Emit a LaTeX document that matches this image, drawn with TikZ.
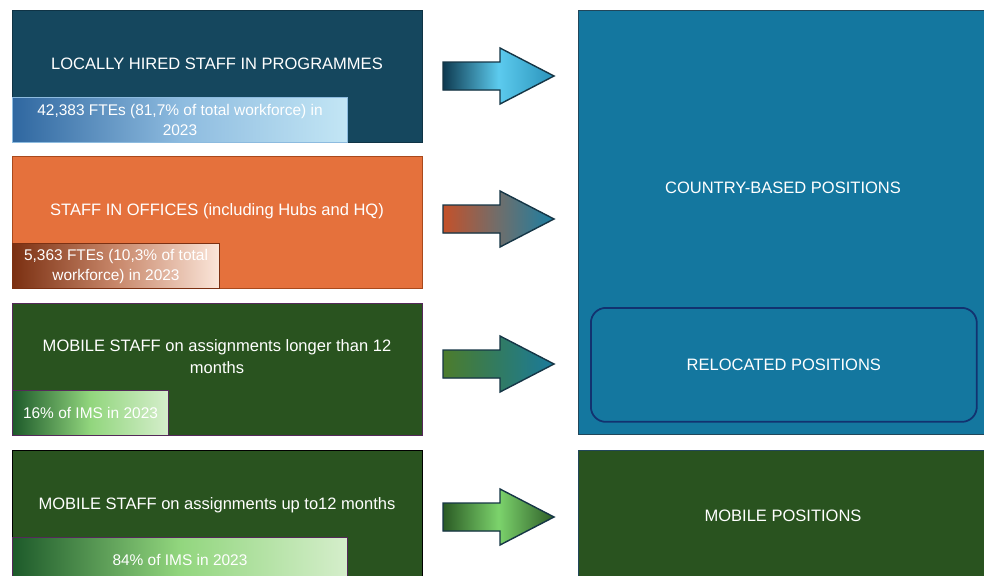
\documentclass[tikz,border=0pt]{standalone}
\usepackage{fontspec}
\setmainfont{Liberation Sans}

% panel colours
\definecolor{progteal}{HTML}{15475E}
\definecolor{progedge}{HTML}{0F3345}
\definecolor{officeorange}{HTML}{E5713C}
\definecolor{officeedge}{HTML}{A9491C}
\definecolor{staffgreen}{HTML}{29531F}
\definecolor{staffedge}{HTML}{55295A}
\definecolor{posblue}{HTML}{14779F}
\definecolor{posedge}{HTML}{21465A}
\definecolor{relocedge}{HTML}{123270}
\definecolor{arrowedge}{HTML}{163646}
% gradients
\definecolor{barblueL}{HTML}{2F67A0}
\definecolor{barblueM}{HTML}{8DBBDF}
\definecolor{barblueR}{HTML}{C3E6F5}
\definecolor{barbrownL}{HTML}{7B3012}
\definecolor{barbrownM}{HTML}{C8876A}
\definecolor{barbrownR}{HTML}{FBE6DA}
\definecolor{bargreenL}{HTML}{1D5A2A}
\definecolor{bargreenM}{HTML}{92D67E}
\definecolor{bargreenR}{HTML}{D5EECB}
\definecolor{arrA1}{HTML}{0E3A50}
\definecolor{arrA2}{HTML}{5CCBEE}
\definecolor{arrA3}{HTML}{2A92BA}
\definecolor{arrB1}{HTML}{C4512A}
\definecolor{arrB2}{HTML}{6F6E6C}
\definecolor{arrB3}{HTML}{1B7FA3}
\definecolor{arrC1}{HTML}{4C7C2C}
\definecolor{arrC2}{HTML}{317B62}
\definecolor{arrC3}{HTML}{1A7A9C}
\definecolor{arrD1}{HTML}{2A5A24}
\definecolor{arrD2}{HTML}{7CD36C}
\definecolor{arrD3}{HTML}{2E5E28}

\begin{document}
\begin{tikzpicture}[x=0.02cm, y=-0.02cm,
    lbl/.style={text=white, font=\fontsize{9.4}{12.5}\selectfont, align=center, inner sep=0},
    panel/.style={draw=#1, line width=0.8pt, anchor=north west, inner sep=0,
        minimum width=8.2cm, minimum height=2.64cm},
    bar/.style={draw=#1, line width=0.6pt, anchor=south west, inner sep=0,
        minimum height=0.9cm, text=white, align=center,
        font=\fontsize{8.8}{11.3}\selectfont}]
    \clip (0,0) rectangle (984,575);
    \fill[white] (0,0) rectangle (984,575);

    % staff groups on the left
    \node[panel=progedge, fill=progteal] (prog) at (12,10) {};
    \node[panel=officeedge, fill=officeorange] (office) at (12,156) {};
    \node[panel=staffedge, fill=staffgreen] (longterm) at (12,303) {};
    \node[panel=black, fill=staffgreen] (shortterm) at (12,450) {};

    \node[lbl] (progtitle) at (217,64) {LOCALLY HIRED STAFF IN PROGRAMMES};
    \node[lbl] (officetitle) at (217,211) {STAFF IN OFFICES (including Hubs and HQ)};
    \node[lbl] (longtitle) at (217,357) {MOBILE STAFF on assignments longer than 12\\months};
    \node[lbl] (shorttitle) at (217,505) {MOBILE STAFF on assignments up to12 months};

    % share bars (middle colour last, left/right colour would reset it)
    \node[bar=barblueM, minimum width=6.7cm, left color=barblueL, right color=barblueR,
        middle color=barblueM] (progbar) at (prog.south west)
        {42,383 FTEs (81,7\% of total workforce) in\\2023};
    \node[bar=barbrownL, minimum width=4.14cm, left color=barbrownL, right color=barbrownR,
        middle color=barbrownM] (officebar) at (office.south west)
        {5,363 FTEs (10,3\% of total\\workforce) in 2023};
    \node[bar=staffedge, minimum width=3.12cm, left color=bargreenL, right color=bargreenR,
        middle color=bargreenM] (longbar) at (longterm.south west) {16\% of IMS in 2023};
    \node[bar=staffedge, minimum width=6.7cm, left color=bargreenL, right color=bargreenR,
        middle color=bargreenM] (shortbar) at (shortterm.south west) {84\% of IMS in 2023};

    % block arrows
    \foreach \y/\ca/\cb/\cc in {76/arrA1/arrA2/arrA3, 219/arrB1/arrB2/arrB3,
        364/arrC1/arrC2/arrC3, 517/arrD1/arrD2/arrD3}
    \filldraw[shift={(0,\y)}, draw=arrowedge, line width=0.8pt, line join=miter,
        left color=\ca, right color=\cc, middle color=\cb]
        (443,-14) -- (500,-14) -- (500,-28) -- (554,0) -- (500,28) -- (500,14)
        -- (443,14) -- cycle;

    % positions on the right
    \node[panel=posedge, fill=posblue, minimum width=8.3cm, minimum height=8.48cm]
        (country) at (578,10) {};
    \node[lbl] (countrytitle) at (783,188) {COUNTRY-BASED POSITIONS};
    \node[draw=relocedge, line width=1pt, rounded corners=0.3cm, fill=posblue,
        minimum width=7.72cm, minimum height=2.28cm, anchor=north west]
        (reloc) at (590,307) {};
    \node[lbl] (reloctitle) at (reloc.center) {RELOCATED POSITIONS};
    \node[panel=posedge, fill=staffgreen, minimum width=8.3cm, minimum height=3cm]
        (mobile) at (578,450) {};
    \node[lbl] (mobiletitle) at (783,516) {MOBILE POSITIONS};
\end{tikzpicture}
\end{document}
